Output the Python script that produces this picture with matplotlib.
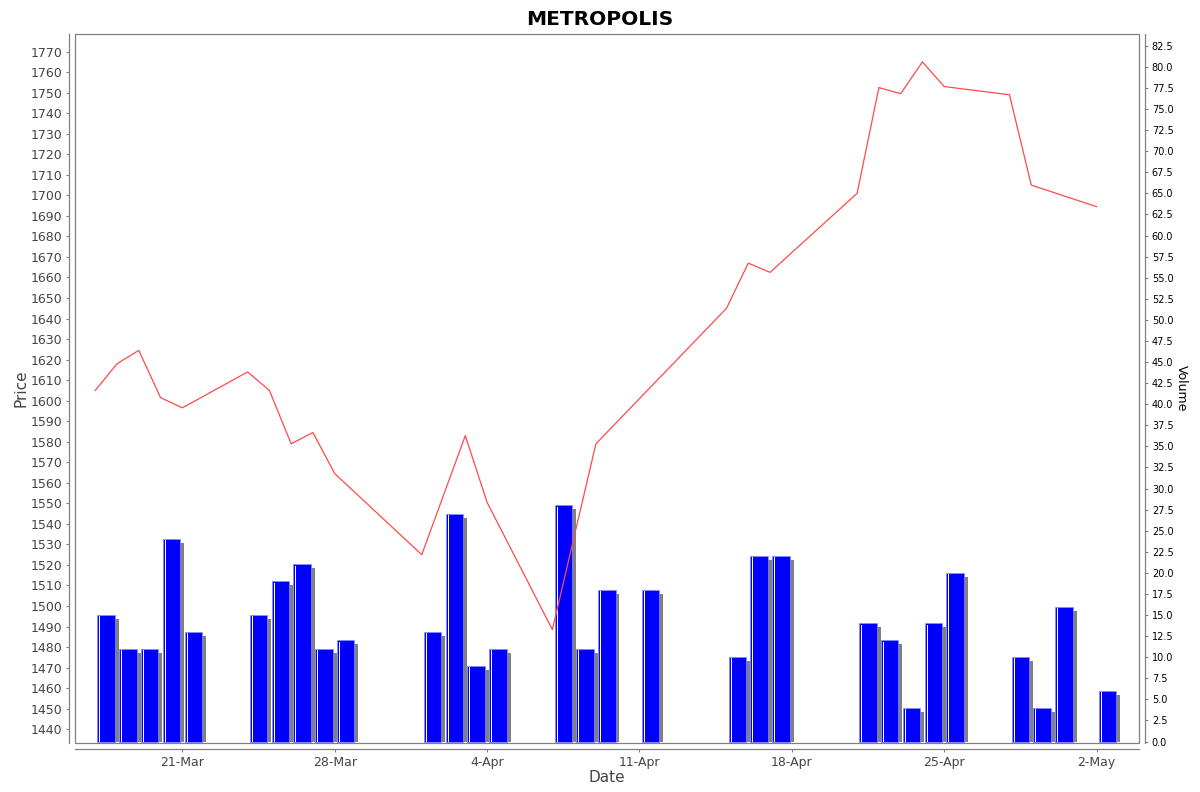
import numpy as np
import pandas as pd
import matplotlib
matplotlib.use('Agg')
import matplotlib.pyplot as plt
import matplotlib.dates as mdates
from matplotlib.patches import Rectangle

# price series (closing prices)
price_dates = ['2025-03-17', '2025-03-18', '2025-03-19', '2025-03-20', '2025-03-21',
               '2025-03-24', '2025-03-25', '2025-03-26', '2025-03-27', '2025-03-28',
               '2025-04-01', '2025-04-03', '2025-04-04', '2025-04-07', '2025-04-09',
               '2025-04-15', '2025-04-16', '2025-04-17', '2025-04-21', '2025-04-22',
               '2025-04-23', '2025-04-24', '2025-04-25', '2025-04-28', '2025-04-29',
               '2025-05-02']
prices = [1605, 1618, 1624.5, 1601.5, 1596.5,
          1614, 1605, 1579, 1584.5, 1564.5,
          1525, 1583, 1550.5, 1488.5, 1579,
          1645, 1667, 1662.5, 1701, 1752.5,
          1749.5, 1765, 1753, 1749, 1705,
          1694.5]

# volume series
vol_dates = ['2025-03-17', '2025-03-18', '2025-03-19', '2025-03-20', '2025-03-21',
             '2025-03-24', '2025-03-25', '2025-03-26', '2025-03-27', '2025-03-28',
             '2025-04-01', '2025-04-02', '2025-04-03', '2025-04-04',
             '2025-04-07', '2025-04-08', '2025-04-09', '2025-04-11',
             '2025-04-15', '2025-04-16', '2025-04-17',
             '2025-04-21', '2025-04-22', '2025-04-23', '2025-04-24', '2025-04-25',
             '2025-04-28', '2025-04-29', '2025-04-30', '2025-05-02']
volumes = [15, 11, 11, 24, 13,
           15, 19, 21, 11, 12,
           13, 27, 9, 11,
           28, 11, 18, 18,
           10, 22, 22,
           14, 12, 4, 14, 20,
           10, 4, 16, 6]

px = mdates.date2num(pd.to_datetime(price_dates))
vx = mdates.date2num(pd.to_datetime(vol_dates))
volumes = np.array(volumes, dtype=float)

fig = plt.figure(figsize=(12, 7.92), dpi=100)
ax = fig.add_axes([0.0625, 0.0619, 0.8867, 0.8952])
ax2 = ax.twinx()

grey = '#444444'
frame = '#808080'

# volume bars with drop shadow, on the right axis
day_px = 21.77
sx = 4 / day_px
sy = 4 / 8.44
ax2.bar(vx + 0.5 + sx, volumes - sy, width=0.8, color='#808080', zorder=1)
ax2.bar(vx + 0.5, volumes, width=0.8, color='#0000ff', edgecolor='#8c8cff',
        linewidth=0.5, zorder=2)
ax2.bar(vx + 0.1 + 2.5 / day_px, volumes - 0.15, width=1.0 / day_px, color='white', zorder=3)

# price line, on the left axis, drawn above the bars
ax.plot(px, prices, color='#ff4a4a', linewidth=0.9, zorder=5)
ax.set_zorder(ax2.get_zorder() + 1)
ax.patch.set_visible(False)

x0 = mdates.date2num(pd.Timestamp('2025-03-16 01:40'))
x1 = mdates.date2num(pd.Timestamp('2025-05-03 22:50'))
ax.set_xlim(x0, x1)
ax.set_ylim(1433.3, 1778.6)
ax2.set_ylim(-0.17, 83.9)

ax.set_yticks(np.arange(1440, 1771, 10))
ax2.set_yticks(np.arange(0, 82.6, 2.5))
ax2.yaxis.set_major_formatter(matplotlib.ticker.FormatStrFormatter('%.1f'))
ax.xaxis.set_major_locator(mdates.WeekdayLocator(byweekday=mdates.FR))
ax.xaxis.set_major_formatter(mdates.DateFormatter('%-d-%b'))

for a in (ax, ax2):
    for s in a.spines.values():
        s.set_visible(False)
    a.tick_params(length=2.2, width=0.8, color=frame)

ax.spines['left'].set_visible(True)
ax.spines['left'].set_position(('outward', 4))
ax.spines['bottom'].set_visible(True)
ax.spines['bottom'].set_position(('outward', 4))
ax2.spines['right'].set_visible(True)
ax2.spines['right'].set_position(('outward', 4))
for s in (ax.spines['left'], ax.spines['bottom'], ax2.spines['right']):
    s.set_color(frame)
    s.set_linewidth(0.9)

ax.add_patch(Rectangle((0, 0), 1, 1, transform=ax.transAxes, fill=False,
                       edgecolor=frame, linewidth=0.9, clip_on=False, zorder=10))

ax.tick_params(axis='y', labelsize=9, labelcolor=grey, pad=3)
ax.tick_params(axis='x', labelsize=9, labelcolor=grey, pad=3)
ax2.tick_params(axis='y', labelsize=7, labelcolor='black', pad=3)

ax.set_ylabel('Price', fontsize=11, color=grey, labelpad=1)
ax.set_xlabel('Date', fontsize=11, color=grey, labelpad=1)
ax2.set_ylabel('Volume', fontsize=9, color='black', rotation=270, labelpad=10)
fig.suptitle('METROPOLIS', fontsize=14.5, fontweight='bold', y=0.988)

plt.savefig('out.png', dpi=100)
